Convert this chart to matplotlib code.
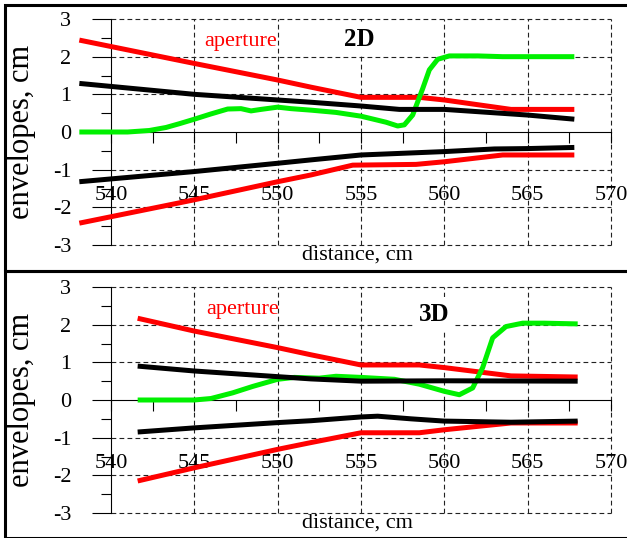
import matplotlib
matplotlib.use("Agg")
import matplotlib.pyplot as plt
from matplotlib.patches import Rectangle
from matplotlib.ticker import MultipleLocator

plt.rcParams['font.family'] = ['Liberation Serif', 'DejaVu Serif']
plt.rcParams['axes.unicode_minus'] = False

# ---------------- data (2D panel) ----------------
d2_red_up_x = [538.1, 545, 550, 552, 555, 558.5, 560, 564, 567.8]
d2_red_up_y = [2.44, 1.82, 1.38, 1.19, 0.92, 0.92, 0.85, 0.60, 0.60]
d2_red_lo_x = [538.1, 545, 550, 552, 554.5, 558.3, 560, 563.5, 567.8]
d2_red_lo_y = [-2.42, -1.80, -1.32, -1.14, -0.88, -0.86, -0.79, -0.61, -0.61]
d2_blk_up_x = [538.1, 545, 550, 552, 555, 557.3, 560, 565, 567.8]
d2_blk_up_y = [1.29, 1.00, 0.85, 0.79, 0.69, 0.60, 0.60, 0.45, 0.34]
d2_blk_lo_x = [538.1, 545, 550, 552, 555, 560, 563, 565, 567.8]
d2_blk_lo_y = [-1.32, -1.05, -0.83, -0.74, -0.61, -0.52, -0.45, -0.44, -0.41]
d2_grn_x = [538.1, 541, 542.3, 543.3, 544.1, 545, 546, 547, 547.8, 548.4, 549, 550,
            550.8, 552, 553.5, 555, 556.5, 557.2, 557.6, 558.1, 558.7, 559.1,
            559.6, 560.3, 562, 563.5, 567.8]
d2_grn_y = [0, 0, 0.04, 0.12, 0.22, 0.34, 0.48, 0.61, 0.62, 0.56, 0.60, 0.66,
            0.62, 0.58, 0.52, 0.42, 0.26, 0.16, 0.19, 0.45, 1.15, 1.65,
            1.93, 2.02, 2.02, 2.00, 2.00]

# ---------------- data (3D panel) ----------------
d3_red_up_x = [541.6, 545, 550, 552, 555, 558.5, 560, 564, 568]
d3_red_up_y = [2.17, 1.83, 1.39, 1.20, 0.93, 0.93, 0.86, 0.64, 0.61]
d3_red_lo_x = [541.6, 545, 550, 552, 555, 558.5, 560, 564, 568]
d3_red_lo_y = [-2.15, -1.80, -1.31, -1.13, -0.87, -0.87, -0.79, -0.61, -0.61]
d3_blk_up_x = [541.6, 545, 550, 552, 555, 560, 568]
d3_blk_up_y = [0.90, 0.77, 0.62, 0.56, 0.50, 0.51, 0.50]
d3_blk_lo_x = [541.6, 545, 550, 552, 555, 556, 558, 560, 564, 568]
d3_blk_lo_y = [-0.85, -0.74, -0.60, -0.55, -0.45, -0.43, -0.50, -0.56, -0.59, -0.56]
d3_grn_x = [541.6, 545, 546, 547.3, 548.5, 550, 551, 552.5, 553.5, 555, 557, 558.5,
            560, 560.9, 561.7, 562.3, 562.9, 563.7, 564.7, 566, 568]
d3_grn_y = [0, 0, 0.04, 0.19, 0.36, 0.55, 0.60, 0.58, 0.63, 0.60, 0.55, 0.42,
            0.23, 0.14, 0.32, 0.86, 1.65, 1.95, 2.04, 2.04, 2.02]

x_ticks = [540, 545, 550, 555, 560, 565, 570]
y_ticks = [-3, -2, -1, 0, 1, 2, 3]
grid_y = [-3, -2, -1, 1, 2, 3]
grid_x = [545, 550, 555, 560, 565, 570]

W, H = 627, 538
fig = plt.figure(figsize=(W / 100, H / 100), dpi=100)

RED = '#ff0000'
GREEN = '#00f000'
LW = 3.6

def make_axes(top_px3, bot_pxm3):
    # x: 540 -> 111 px, 570 -> 611 px ; y: 3 -> top_px3, -3 -> bot_pxm3
    xmin, xmax = 537.9, 570.5
    ppx = (611 - 111) / 30.0
    left = 111 - (540 - xmin) * ppx
    right = 611 + (xmax - 570) * ppx
    ppy = (bot_pxm3 - top_px3) / 6.0
    ymin, ymax = -3.4, 3.4
    top = top_px3 - (ymax - 3) * ppy
    bot = bot_pxm3 + (-3 - ymin) * ppy
    ax = fig.add_axes([left / W, 1 - bot / H, (right - left) / W, (bot - top) / H])
    ax.set_xlim(xmin, xmax)
    ax.set_ylim(ymin, ymax)
    ax.patch.set_alpha(0)
    for s in ['top', 'right']:
        ax.spines[s].set_visible(False)
    ax.spines['left'].set_position(('data', 540))
    ax.spines['left'].set_bounds(-3, 3)
    ax.spines['bottom'].set_position(('data', 0))
    ax.spines['bottom'].set_bounds(540, 570)
    for s in ['left', 'bottom']:
        ax.spines[s].set_linewidth(0.8)
    ax.set_xticks(x_ticks)
    ax.set_yticks(y_ticks)
    ax.set_xticklabels([str(v) for v in x_ticks])
    ax.set_yticklabels([str(v) for v in y_ticks])
    ax.xaxis.set_minor_locator(MultipleLocator(2.5))
    ax.yaxis.set_minor_locator(MultipleLocator(0.5))
    ax.tick_params(axis='y', which='major', direction='out', length=13.7, width=0.8,
                   pad=15, labelsize=16)
    ax.tick_params(axis='y', which='minor', direction='out', length=7.2, width=0.8)
    ax.tick_params(axis='x', which='major', direction='out', length=8, width=0.8,
                   pad=31, labelsize=16)
    ax.tick_params(axis='x', which='minor', direction='out', length=8, width=0.8)
    ax.hlines(grid_y, 540, 570, colors='#222222', linestyles=(0, (4.3, 2.9)),
              linewidth=0.8, zorder=0.5)
    ax.vlines(grid_x, -3, 3, colors='#222222', linestyles=(0, (4.3, 2.9)),
              linewidth=0.8, zorder=0.5)
    return ax

def draw(ax, curves):
    for x, y, c in curves:
        ax.plot(x, y, color=c, lw=LW, solid_capstyle='butt', solid_joinstyle='round',
                zorder=3)

ax1 = make_axes(19, 245)
draw(ax1, [(d2_red_up_x, d2_red_up_y, RED), (d2_red_lo_x, d2_red_lo_y, RED),
           (d2_grn_x, d2_grn_y, GREEN),
           (d2_blk_up_x, d2_blk_up_y, 'black'), (d2_blk_lo_x, d2_blk_lo_y, 'black')])
ax1.text(547.8, 2.4, 'aperture', color=RED, fontsize=16, ha='center', va='center')
ax1.text(554.9, 2.46, '2D', fontsize=18, fontweight='bold', ha='center', va='center',
         bbox=dict(facecolor='white', edgecolor='none', pad=4), zorder=2)
ax1.text(554.8, -3.27, 'distance, cm', fontsize=16, ha='center', va='center')

ax2 = make_axes(287, 513)
draw(ax2, [(d3_red_up_x, d3_red_up_y, RED), (d3_red_lo_x, d3_red_lo_y, RED),
           (d3_grn_x, d3_grn_y, GREEN),
           (d3_blk_up_x, d3_blk_up_y, 'black'), (d3_blk_lo_x, d3_blk_lo_y, 'black')])
ax2.text(547.9, 2.41, 'aperture', color=RED, fontsize=16, ha='center', va='center')
ax2.text(559.4, 2.27, '3D', fontsize=18, fontweight='bold', ha='center', va='center',
         bbox=dict(facecolor='white', edgecolor='none', pad=4), zorder=2)
ax2.text(554.8, -3.27, 'distance, cm', fontsize=16, ha='center', va='center')

fig.text(22 / W, 1 - 132 / H, 'envelopes, cm', rotation=90, fontsize=22,
         ha='center', va='center')
fig.text(22 / W, 1 - 400 / H, 'envelopes, cm', rotation=90, fontsize=22,
         ha='center', va='center')

# panel frames
for (y0, y1) in [(4.5, 270.5), (270.5, 537.5)]:
    fig.patches.append(Rectangle((5 / W, 1 - y1 / H), (640 - 5) / W, (y1 - y0) / H,
                                 transform=fig.transFigure, fill=False,
                                 edgecolor='black', linewidth=2.2))

fig.savefig('out.png', dpi=100)
